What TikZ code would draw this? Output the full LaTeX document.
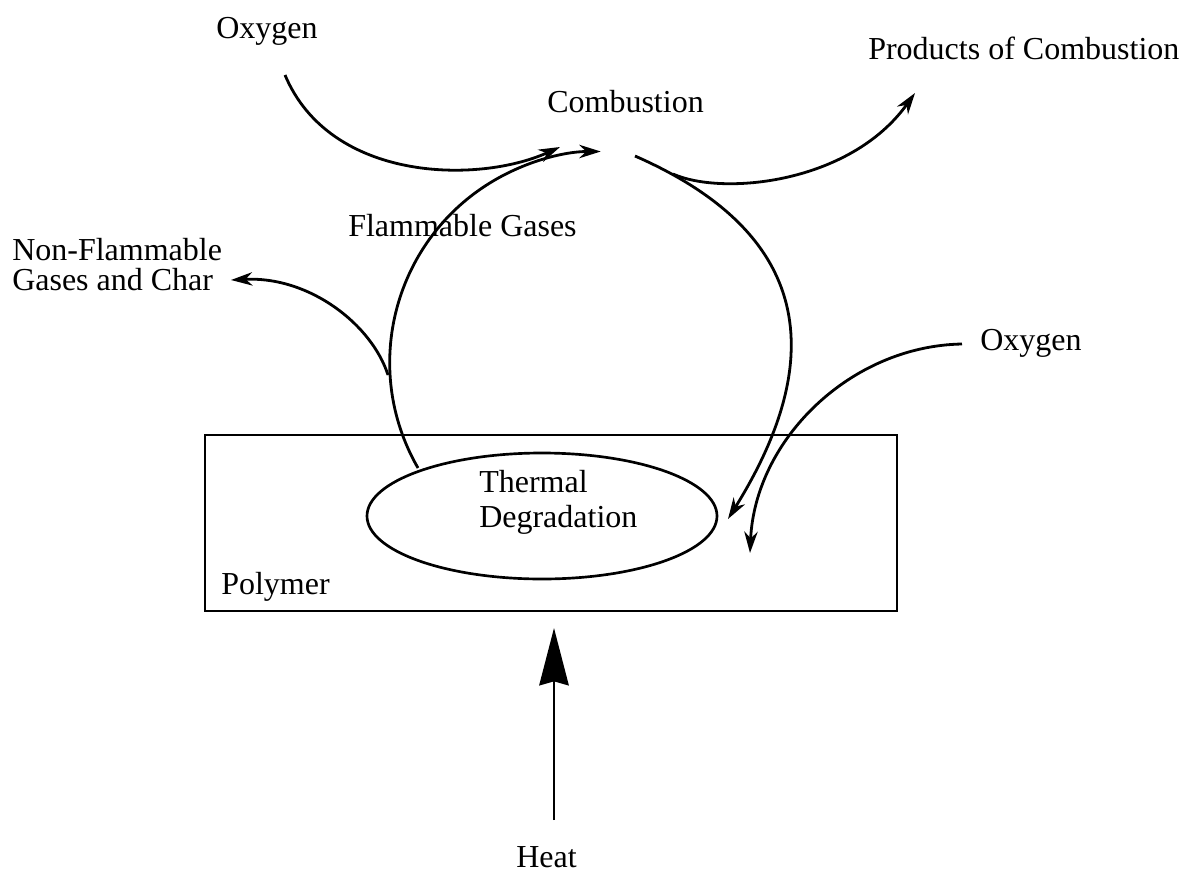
\documentclass[tikz,border=0pt]{standalone}
\usepackage{fontspec}
\setmainfont{Liberation Serif}
\usetikzlibrary{arrows.meta,shapes.geometric}
\newcommand{\mytwolines}[3]{\vtop{\baselineskip=#3\lineskiplimit=-20pt\lineskip=0pt\hbox{#1}\hbox{#2}}}
\tikzset{
  lbl/.style={anchor=base west, inner sep=0pt, font=\fontsize{24}{28}\selectfont},
  conn/.style={line width=2.1pt, -{Stealth[length=16pt,width=10pt,inset=5pt]}},
  heatarrow/.style={line width=2.1pt, -{Stealth[length=43pt,width=22pt,inset=3pt]}},
  shapeline/.style={draw, line width=2pt, inner sep=0pt}
}
\begin{document}
\begin{tikzpicture}[x=0.75pt, y=-0.75pt]
\useasboundingbox (0,0) rectangle (1190,872);
% shapes
\node[shapeline, rectangle, minimum width=519pt, minimum height=132pt] (poly) at (551,523) {};
\node[shapeline, ellipse, minimum width=262.5pt, minimum height=94.5pt] (ell) at (542,516) {};
% labels
\node[lbl] (oxy1) at (216,38) {Oxygen};
\node[lbl] (comb) at (547,112) {Combustion};
\node[lbl] (prod) at (868,59) {Products of Combustion};
\node[lbl] (flam) at (348,236) {Flammable Gases};
\node[lbl] (nonflam) at (12,260) {\mytwolines{Non-Flammable}{Gases and Char}{22.5pt}};
\node[lbl] (oxy2) at (980,350) {Oxygen};
\node[lbl] (therm) at (479,492) {\mytwolines{Thermal}{Degradation}{26.5pt}};
\node[lbl] (polyl) at (221,594) {Polymer};
\node[lbl] (heat) at (516,867) {Heat};
% connector end points
\coordinate (o1start) at (285,75);
\coordinate (o1end) at (560,147);
\coordinate (fgstart) at (418,468);
\coordinate (rstart) at (635,156);
\coordinate (rend) at (728,519);
\coordinate (pstart) at (673,174);
\coordinate (pend) at (915,93);
\coordinate (nfstart) at (388,375);
\coordinate (nfend) at (231,280);
\coordinate (o2start) at (962,344);
\coordinate (o2end) at (750,553);
\coordinate (heatstart) at (554,820);
\coordinate (heatend) at (554,628);
% connectors
\draw[conn] (o1start) .. controls (330,182) and (478,184) .. (o1end);
\draw[conn] (fgstart) arc[start angle=210, end angle=90, radius=158.25pt];
\draw[conn] (rstart) .. controls (822,238) and (822,368) .. (rend);
\draw[conn] (pstart) .. controls (722,196) and (850,184) .. (pend);
\draw[conn] (nfstart) .. controls (372,325) and (310,276) .. (nfend);
\draw[conn] (o2start) .. controls (850,346) and (755,440) .. (o2end);
\draw[heatarrow] (heatstart) -- (heatend);
\end{tikzpicture}
\end{document}
